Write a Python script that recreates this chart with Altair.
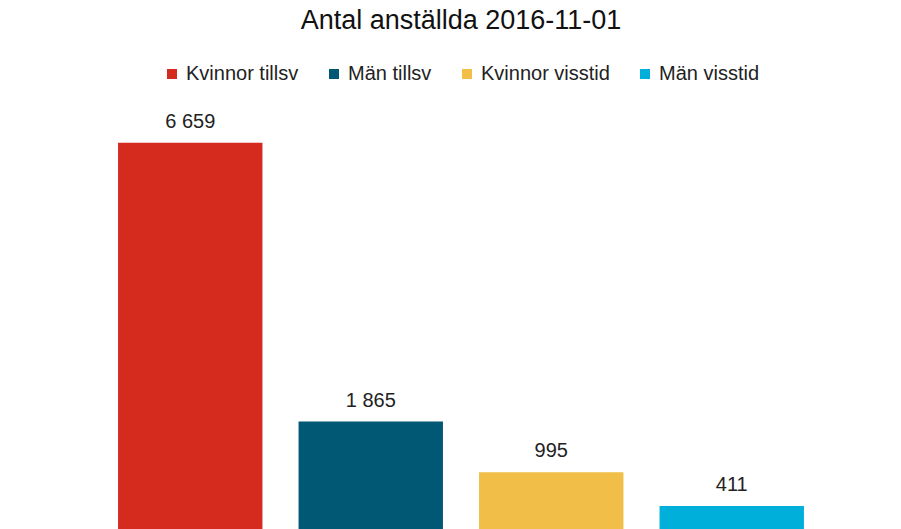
import altair as alt
import pandas as pd

categories = ["Kvinnor tillsv", "Män tillsv", "Kvinnor visstid", "Män visstid"]
values = [6659, 1865, 995, 411]
colors = ["#D52B1E", "#015874", "#F1BE48", "#00B0DA"]
title_text = "Antal anställda 2016-11-01"

df = pd.DataFrame({
    "kategori": categories,
    "antal": values,
    "etikett": [f"{v:,}".replace(",", " ") for v in values],
})

FONT = "Liberation Sans"

x = alt.X("kategori:N", sort=categories, axis=None,
          scale=alt.Scale(paddingInner=0.2, paddingOuter=0.1))
y = alt.Y("antal:Q", axis=None, scale=alt.Scale(domain=[0, 7000], nice=False, zero=True))

bars = alt.Chart(df).mark_bar().encode(
    x=x,
    y=y,
    color=alt.Color(
        "kategori:N",
        sort=categories,
        scale=alt.Scale(domain=categories, range=colors),
        legend=alt.Legend(
            title=None,
            orient="none",
            direction="horizontal",
            columns=4,
            legendX=62,
            legendY=-59,
            symbolType="square",
            symbolSize=100,
            symbolStrokeWidth=0,
            labelFontSize=20,
            labelFont=FONT,
            labelColor="#222222",
            labelOffset=4,
            columnPadding=25,
            padding=0,
            labelLimit=300,
        ),
    ),
)

labels = alt.Chart(df).mark_text(
    baseline="bottom", dy=-11, fontSize=20, font=FONT, color="#222222"
).encode(x=x, y=y, text="etikett:N")

chart = alt.layer(bars, labels).properties(
    width=722,
    height=407,
    padding={"left": 92, "top": 115, "right": 10, "bottom": 0},
    autosize=alt.AutoSizeParams(type="none"),
    title=alt.TitleParams(
        title_text, fontSize=27, font=FONT, fontWeight="normal",
        color="#111111", anchor="middle", baseline="alphabetic", offset=0, dy=-8,
    ),
).configure_view(stroke=None)

chart.save("out.html", embed_options={"renderer": "svg", "actions": False})
